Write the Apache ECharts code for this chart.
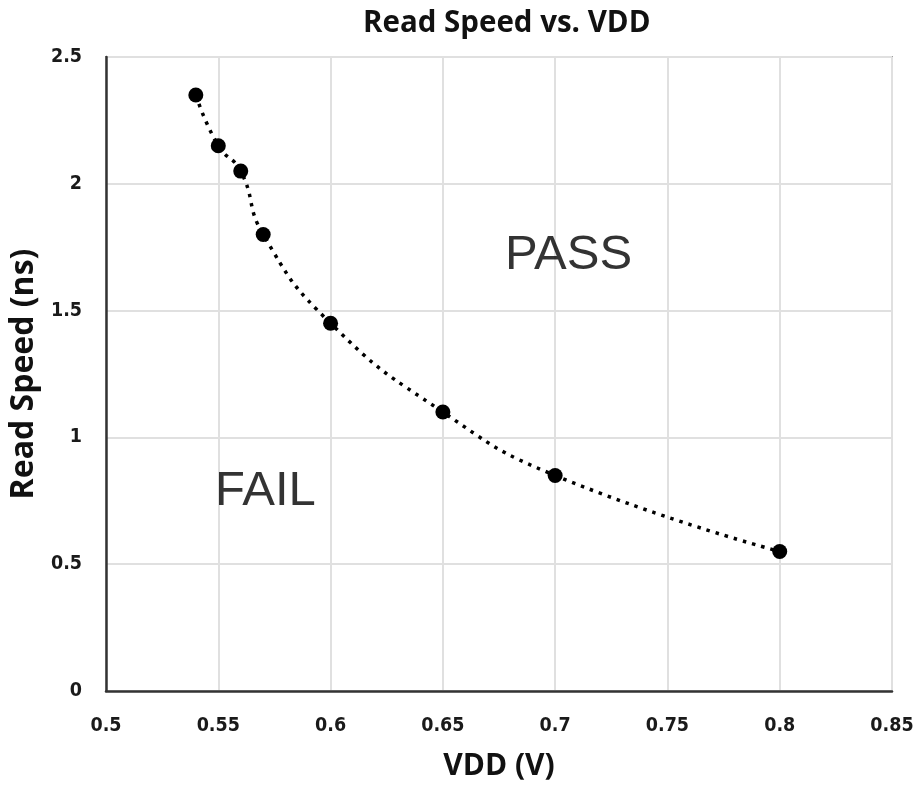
<!DOCTYPE html>
<html>
<head>
<meta charset="utf-8">
<script src="https://cdn.jsdelivr.net/npm/echarts@6/dist/echarts.min.js"></script>
<style>
html,body{margin:0;padding:0;background:#fff;}
#chart{width:914px;height:790px;}
</style>
</head>
<body>
<div id="chart"></div>
<script>
const vdd = [0.54, 0.55, 0.56, 0.57, 0.60, 0.65, 0.70, 0.80];
const readSpeed = [2.35, 2.15, 2.05, 1.80, 1.45, 1.10, 0.85, 0.55];
const xTicks = { min: 0.5, max: 0.85, interval: 0.05 };
const yTicks = { min: 0, max: 2.5, interval: 0.5 };
const regionLabels = ['PASS', 'FAIL'];
const regionPos = [[0.706, 1.716], [0.571, 0.788]];

const points = vdd.map((v, i) => [v, readSpeed[i]]);
const tickFont = '"Liberation Sans Narrow", "DejaVu Sans Condensed", sans-serif';
const boldFont = '"Open Sans", "Noto Sans", sans-serif';

const chart = echarts.init(document.getElementById('chart'));
chart.setOption({
  backgroundColor: '#fff',
  animation: false,
  title: {
    text: 'Read Speed vs. VDD',
    left: 358,
    top: 4,
    textStyle: { fontFamily: boldFont, fontWeight: 'bold', fontSize: 29.5, color: '#111' }
  },
  grid: {
    left: 106, right: 22, top: 57, bottom: 99,
    outerBoundsMode: 'none', containLabel: false,
    show: true, borderColor: '#555', borderWidth: 1.5
  },
  xAxis: {
    type: 'value',
    min: xTicks.min, max: xTicks.max, interval: xTicks.interval,
    name: 'VDD (V)', nameLocation: 'middle', nameGap: 60,
    nameTextStyle: { fontFamily: boldFont, fontWeight: 'bold', fontSize: 30, color: '#111' },
    axisLine: { show: true, lineStyle: { color: '#333', width: 2.5 } },
    axisTick: { show: false },
    axisLabel: { margin: 25, fontFamily: tickFont, fontWeight: 'bold', fontSize: 19.5, color: '#1a1a1a',
      hideOverlap: false, formatter: v => String(+v.toFixed(2)) },
    splitLine: { show: true, lineStyle: { color: '#e0e0e0', width: 2 } }
  },
  yAxis: {
    type: 'value',
    min: yTicks.min, max: yTicks.max, interval: yTicks.interval,
    name: 'Read Speed (ns)', nameLocation: 'middle', nameGap: 50, nameRotate: 90,
    nameTextStyle: { fontFamily: boldFont, fontWeight: 'bold', fontSize: 32, color: '#111' },
    axisLine: { show: true, lineStyle: { color: '#333', width: 2.5 } },
    axisTick: { show: false },
    axisLabel: { margin: 24, fontFamily: tickFont, fontWeight: 'bold', fontSize: 19.5, color: '#1a1a1a',
      formatter: v => String(+v.toFixed(1)) },
    splitLine: { show: true, lineStyle: { color: '#e0e0e0', width: 2 } }
  },
  series: [
    {
      type: 'line',
      data: points,
      smooth: 0.5,
      symbol: 'none',
      lineStyle: { color: '#000', width: 3.5, type: [3.5, 6] },
      z: 2
    },
    {
      type: 'scatter',
      data: points,
      symbol: 'circle',
      symbolSize: 15,
      itemStyle: { color: '#000', opacity: 1 },
      z: 3
    },
    {
      type: 'scatter',
      data: regionPos.map((p, i) => ({ value: p, name: regionLabels[i] })),
      symbolSize: 0,
      silent: true,
      label: {
        show: true, position: 'inside', formatter: p => p.name,
        fontFamily: '"Liberation Sans", Arial, sans-serif', fontSize: 49, color: '#000'
      },
      z: 4
    }
  ]
});
</script>
</body>
</html>
